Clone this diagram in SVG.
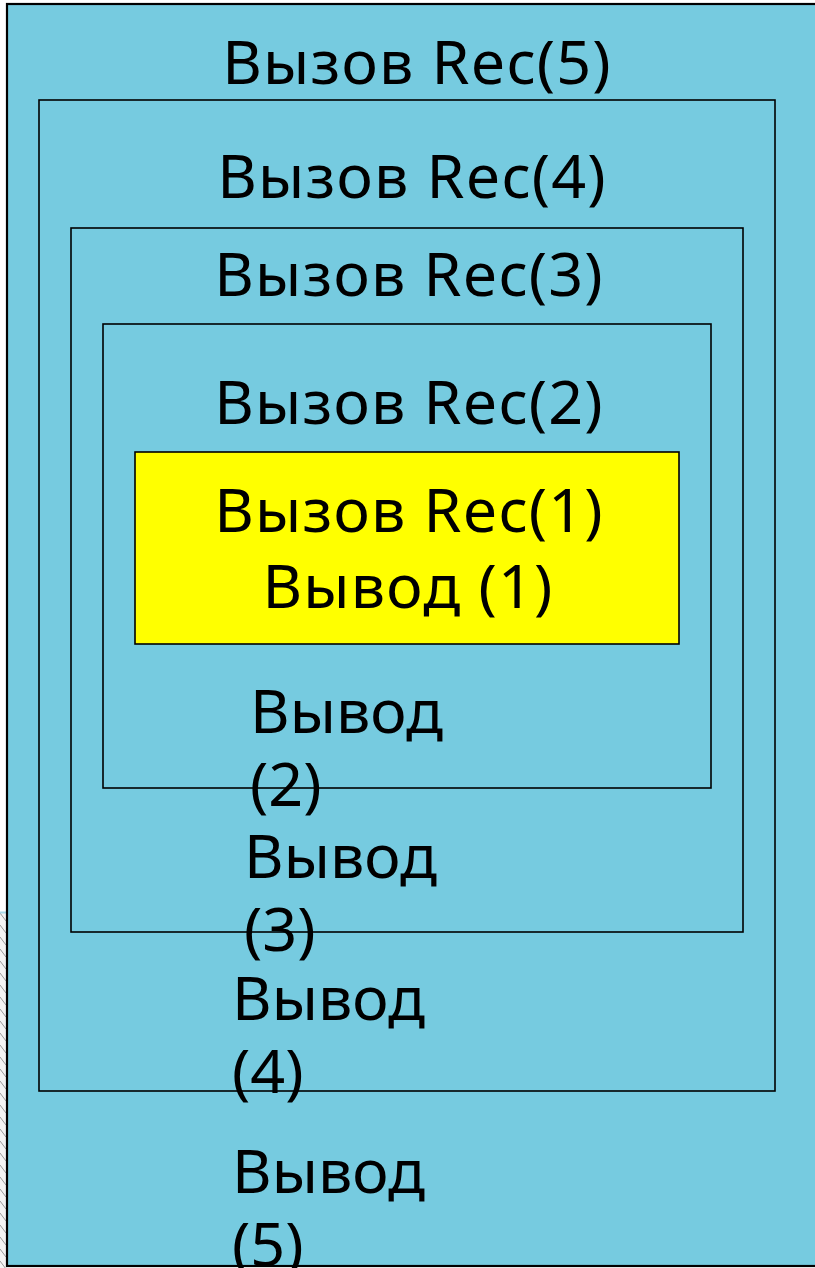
<svg xmlns="http://www.w3.org/2000/svg" width="815" height="1268" viewBox="0 0 815 1268">
  <defs>
    <pattern id="hatch" width="6" height="12" patternUnits="userSpaceOnUse">
      <rect width="6" height="12" fill="#f4f4f4"/>
      <path d="M0 1 L6 9" stroke="#9a9a9a" stroke-width="1"/>
    </pattern>
  </defs>
  <style>
    .frame { fill: #76cbe0; stroke: #000; stroke-width: 1.6; }
    .outer { fill: #76cbe0; stroke: #000; stroke-width: 2.2; }
    .core { fill: #ffff00; stroke: #000; stroke-width: 1.6; }
    text { font-family: "Noto Sans", "DejaVu Sans", sans-serif; font-size: 61px; fill: #000; }
    .c { text-anchor: middle; letter-spacing: 1.2px; }
  </style>

  <!-- strip at the left edge -->
  <rect x="0" y="912" width="7" height="356" fill="url(#hatch)"/>
  <line x1="0" y1="912.5" x2="7" y2="912.5" stroke="#a9d9e8" stroke-width="2"/>

  <g id="rec5">
    <rect class="outer" x="7" y="4" width="820" height="1262"/>
    <text class="c" x="417" y="84">Вызов Rec(5)</text>
    <text x="232" y="1193">Вывод</text>
    <text x="232" y="1266">(5)</text>
  </g>

  <g id="rec4">
    <rect class="frame" x="39" y="100" width="736" height="991"/>
    <text class="c" x="412" y="198">Вызов Rec(4)</text>
    <text x="232" y="1020">Вывод</text>
    <text x="232" y="1093">(4)</text>
  </g>

  <g id="rec3">
    <rect class="frame" x="71" y="228" width="672" height="704"/>
    <text class="c" x="409" y="296">Вызов Rec(3)</text>
    <text x="244" y="878">Вывод</text>
    <text x="244" y="951">(3)</text>
  </g>

  <g id="rec2">
    <rect class="frame" x="103" y="324" width="608" height="464"/>
    <text class="c" x="409" y="424">Вызов Rec(2)</text>
    <text x="250" y="733">Вывод</text>
    <text x="250" y="806">(2)</text>
  </g>

  <g id="rec1">
    <rect class="core" x="135" y="452" width="544" height="192"/>
    <text class="c" x="409" y="532">Вызов Rec(1)</text>
    <text class="c" x="408" y="608">Вывод (1)</text>
  </g>

  <g id="connectors"/>
</svg>
